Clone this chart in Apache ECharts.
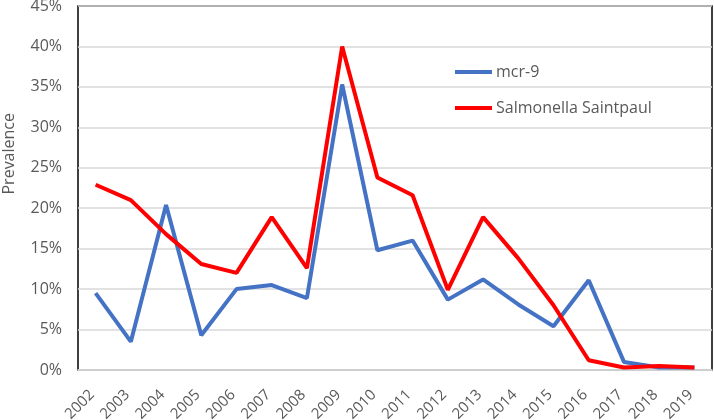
<!DOCTYPE html>
<html><head><meta charset="utf-8">
<script src="https://cdn.jsdelivr.net/npm/echarts@6/dist/echarts.min.js"></script>
<style>html,body{margin:0;padding:0;background:#fff}#c{width:714px;height:420px}</style>
</head><body><div id="c"></div>
<script>
const years = ['2002','2003','2004','2005','2006','2007','2008','2009','2010','2011','2012','2013','2014','2015','2016','2017','2018','2019'];
const mcr9 = [9.5,3.5,20.4,4.3,10.0,10.5,8.9,35.3,14.8,16.0,8.7,11.2,8.1,5.4,11.1,1.0,0.3,0.3];
const saintpaul = [22.9,21.0,16.8,13.1,12.0,18.9,12.6,40.0,23.8,21.6,9.9,18.9,13.8,8.0,1.2,0.3,0.5,0.3];
const yTicks = [0,5,10,15,20,25,30,35,40,45];
const yTitle = 'Prevalence';
const FONT = 'Open Sans';
const chart = echarts.init(document.getElementById('c'));
chart.setOption({
  animation:false,
  backgroundColor:'#fff',
  grid:{left:78,right:2,top:6,bottom:50,show:true,borderColor:'#000',borderWidth:1.5,backgroundColor:'transparent',outerBoundsMode:'none',containLabel:false},
  graphic:[{type:'text',left:1,top:113,rotation:Math.PI/2,
    style:{text:yTitle,font:'16px "Open Sans"',fill:'#595959'}}],
  legend:{orient:'vertical',left:455,top:64,padding:0,itemWidth:37,itemHeight:4,itemGap:20,icon:'rect',
    textStyle:{fontFamily:FONT,fontSize:16,color:'#595959',padding:[0,0,0,-1]},
    data:['mcr-9','Salmonella Saintpaul']},
  xAxis:{type:'category',data:years,boundaryGap:true,
    axisLine:{lineStyle:{color:'#d9d9d9',width:1.5}},axisTick:{show:false},
    axisLabel:{rotate:45,fontFamily:FONT,fontSize:15,color:'#595959',margin:19,interval:0,padding:[0,5,0,0]}},
  yAxis:{type:'value',min:0,max:45,interval:5,
    axisLine:{show:false},axisTick:{show:false},
    splitLine:{lineStyle:{color:'#d9d9d9',width:1.5}},
    axisLabel:{fontFamily:FONT,fontSize:16,color:'#595959',margin:16,formatter:v=>yTicks.includes(v)?v+'%':''}},
  series:[
    {name:'mcr-9',type:'line',data:mcr9,symbol:'none',lineStyle:{color:'#4472C4',width:4},itemStyle:{color:'#4472C4'}},
    {name:'Salmonella Saintpaul',type:'line',data:saintpaul,symbol:'none',lineStyle:{color:'#FF0000',width:4},itemStyle:{color:'#FF0000'}}
  ]
});
</script></body></html>
